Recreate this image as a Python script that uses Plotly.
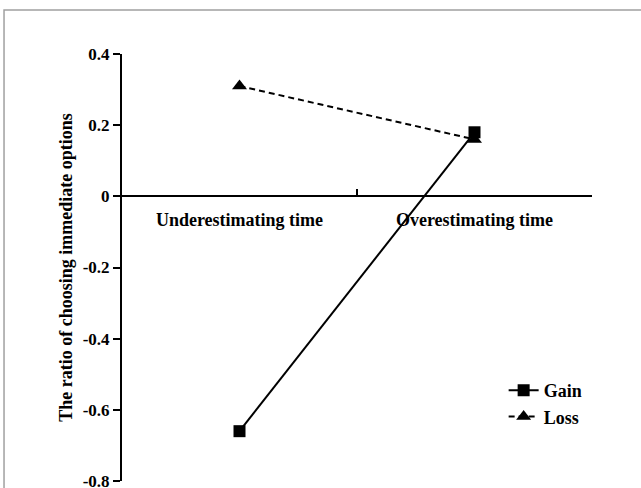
import plotly.graph_objects as go

categories = ["Underestimating time", "Overestimating time"]
gain = [-0.66, 0.18]
loss = [0.31, 0.16]
ytick_vals = [0.4, 0.2, 0, -0.2, -0.4, -0.6, -0.8]
ytick_text = ["0.4", "0.2", "0", "-0.2", "-0.4", "-0.6", "-0.8"]

FONT = "Liberation Serif"
FS = 18

fig = go.Figure()
fig.add_trace(go.Scatter(
    x=categories, y=gain, name="Gain", mode="lines+markers",
    line=dict(color="black", width=2),
    marker=dict(symbol="square", size=12, color="black"),
))
fig.add_trace(go.Scatter(
    x=categories, y=loss, name="Loss", mode="lines+markers",
    line=dict(color="black", width=2, dash="6px,4px"),
    marker=dict(symbol="triangle-up", size=13, color="black"),
))

fig.update_layout(
    width=641, height=488,
    margin=dict(l=122, r=49, t=54, b=7),
    paper_bgcolor="white", plot_bgcolor="white",
    font=dict(family=FONT, size=FS, color="black", weight="bold"),
    showlegend=True,
    legend=dict(x=0.812, y=0.1815, xanchor="left", yanchor="middle",
                bgcolor="rgba(0,0,0,0)", font=dict(family=FONT, size=FS, weight="bold"),
                itemwidth=30, tracegroupgap=0),
    xaxis=dict(
        type="category", range=[-0.5, 1.5],
        tickson="boundaries", ticks="inside", ticklen=6, tickwidth=2, tickcolor="black",
        showline=True, linewidth=2, linecolor="black",
        showgrid=False, zeroline=False, automargin=False,
        anchor="free", position=0.6667,
        ticklabelstandoff=7,
        tickfont=dict(family=FONT, size=FS, weight="bold"),
    ),
    yaxis=dict(
        range=[-0.8, 0.4], tickmode="array", tickvals=ytick_vals, ticktext=ytick_text,
        ticks="outside", ticklen=7, tickwidth=2, tickcolor="black",
        showline=True, linewidth=2, linecolor="black",
        showgrid=False, zeroline=False, automargin=False,
        ticklabeloverflow="allow",
        tickfont=dict(family=FONT, size=17, weight="bold"),
        title=dict(text="The ratio of choosing immediate options",
                   font=dict(family=FONT, size=FS, weight="bold"), standoff=5),
    ),
    shapes=[dict(type="rect", xref="paper", yref="paper",
                 x0=-0.251, x1=1.3, y0=-0.3, y1=1.103,
                 line=dict(color="#a0a0a0", width=1.5), layer="below")],
)

fig.write_html("out.html")
